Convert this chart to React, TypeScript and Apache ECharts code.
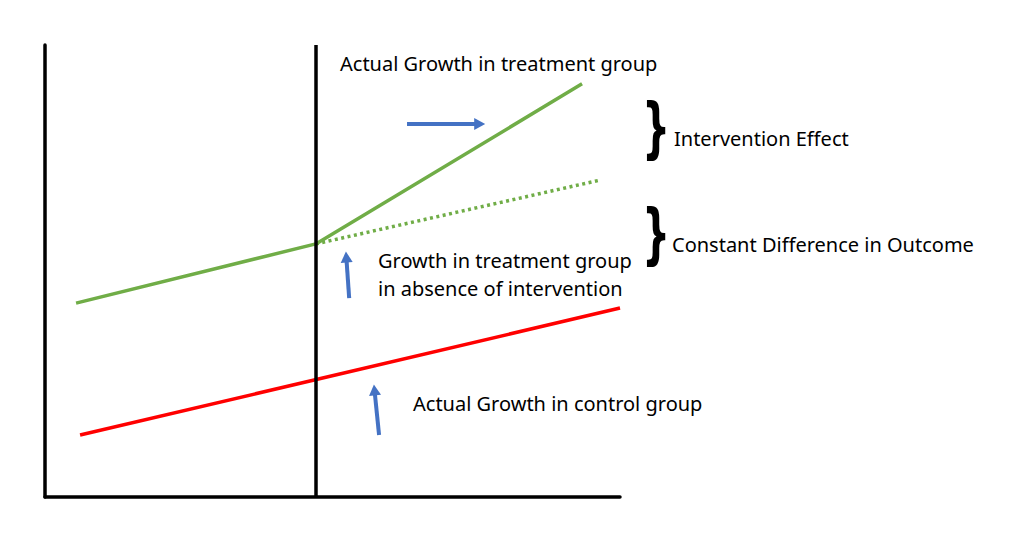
import React, { useEffect, useRef } from "react";
import * as echarts from "echarts";

// x: time (0..100), y: outcome (0..100)
const interventionX = 47.1;
const treatmentActual: [number, number][] = [
  [5.4, 42.9],
  [47.1, 56.0],
  [93.4, 91.4],
];
const treatmentCounterfactual: [number, number][] = [
  [47.1, 56.0],
  [96.5, 70.1],
];
const controlActual: [number, number][] = [
  [6.1, 13.7],
  [100, 41.8],
];
// arrows: [from, to]
const arrows: [[number, number], [number, number]][] = [
  [[62.96, 82.5], [75.6, 82.5]],
  [[52.9, 44.0], [52.4, 53.1]],
  [[58.1, 13.7], [57.3, 23.7]],
];
const labels = [
  { text: "Actual Growth in treatment group", left: 340, top: 65 },
  { text: "Intervention Effect", left: 674, top: 140 },
  { text: "Constant Difference in Outcome", left: 672, top: 246 },
  { text: "Growth in treatment group", left: 378, top: 262 },
  { text: "in absence of intervention", left: 378, top: 290 },
  { text: "Actual Growth in control group", left: 413, top: 405 },
];
const braces = [
  { x: 656, y: 127 },
  { x: 656, y: 233 },
];

const GREEN = "#70AD47";
const RED = "#FF0000";
const BLUE = "#4472C4";
const FONT = "Noto Sans";

export default function App() {
  const ref = useRef<HTMLDivElement>(null);
  useEffect(() => {
    if (!ref.current) return;
    const chart = echarts.init(ref.current, null, { renderer: "svg" });
    chart.setOption({
      animation: false,
      backgroundColor: "#fff",
      grid: { left: 45, right: 404, top: 45, bottom: 51 },
      xAxis: {
        type: "value",
        min: 0,
        max: 100,
        axisLine: { show: true, lineStyle: { color: "#000", width: 3.5 } },
        axisTick: { show: false },
        axisLabel: { show: false },
        splitLine: { show: false },
      },
      yAxis: {
        type: "value",
        min: 0,
        max: 100,
        axisLine: { show: true, lineStyle: { color: "#000", width: 3.5 } },
        axisTick: { show: false },
        axisLabel: { show: false },
        splitLine: { show: false },
      },
      series: [
        {
          type: "line",
          data: controlActual,
          symbol: "none",
          lineStyle: { color: RED, width: 3.5 },
          silent: true,
          markLine: {
            silent: true,
            symbol: ["none", "triangle"],
            symbolSize: [12, 11],
            label: { show: false },
            lineStyle: { color: BLUE, width: 4, type: "solid" },
            data: arrows.map(([a, b]) => [{ coord: a }, { coord: b }]),
          },
        },
        {
          type: "line",
          data: treatmentCounterfactual,
          symbol: "none",
          lineStyle: { color: GREEN, width: 3.5, type: [3, 3.5] },
          silent: true,
        },
        {
          type: "line",
          data: treatmentActual,
          symbol: "none",
          lineStyle: { color: GREEN, width: 3.5 },
          silent: true,
          markLine: {
            silent: true,
            symbol: ["none", "none"],
            label: { show: false },
            lineStyle: { color: "#000", width: 3.5, type: "solid" },
            data: [{ xAxis: interventionX }],
          },
        },
      ],
      graphic: [
        ...labels.map((l) => ({
          type: "text",
          left: l.left,
          top: l.top - 12,
          style: { text: l.text, fill: "#000", font: `20px "${FONT}"` },
        })),
        ...braces.map((b) => ({
          type: "text",
          x: b.x,
          y: b.y,
          scaleX: 0.6,
          style: {
            text: "}",
            fill: "#000",
            font: `bold 66px "DejaVu Sans"`,
            align: "center",
            verticalAlign: "middle",
          },
        })),
      ],
    });
    return () => chart.dispose();
  }, []);
  return (
    <div
      ref={ref}
      style={{ position: "fixed", left: 0, top: 0, width: 1024, height: 548 }}
    />
  );
}
